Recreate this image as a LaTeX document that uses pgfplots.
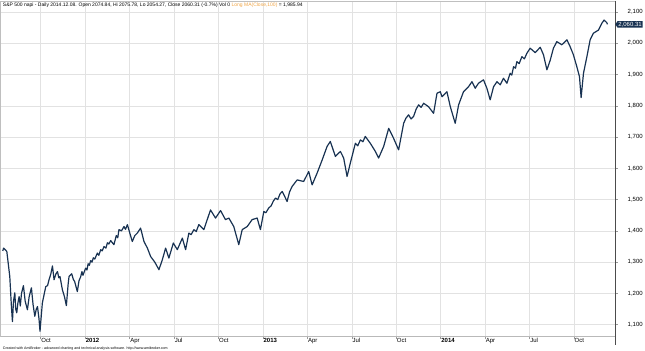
\documentclass[border=0pt]{standalone}
\usepackage{pgfplots}
\pgfplotsset{compat=1.18}
\usepackage{pgfplotstable}
\usepackage{fontspec}
\setmainfont{Liberation Sans}
\usetikzlibrary{shapes.symbols}
\definecolor{navy}{RGB}{24,50,82}
\definecolor{gridc}{RGB}{226,226,226}
\definecolor{orng}{RGB}{240,165,70}
\pgfplotstableread{
m v
6.44 1336
6.49 1345
6.60 1340
6.71 1334
6.80 1298
6.91 1254
7.02 1158
7.09 1110
7.16 1175
7.25 1202
7.31 1150
7.38 1138
7.46 1170
7.54 1190
7.62 1160
7.70 1200
7.83 1225
7.95 1175
8.10 1148
8.22 1190
8.37 1218
8.48 1165
8.60 1127
8.70 1150
8.78 1158
8.88 1120
8.95 1079
9.03 1125
9.11 1170
9.22 1195
9.34 1222
9.46 1225
9.56 1244
9.68 1262
9.79 1288
9.90 1244
10.02 1262
10.13 1270
10.22 1250
10.30 1254
10.46 1212
10.60 1190
10.73 1161
10.85 1230
10.91 1254
11.09 1263
11.20 1245
11.29 1238
11.47 1206
11.58 1240
11.70 1254
11.78 1270
11.85 1258
12.03 1281
12.12 1275
12.20 1295
12.28 1290
12.37 1305
12.46 1300
12.55 1314
12.65 1310
12.82 1329
12.92 1322
13.05 1340
13.15 1336
13.27 1350
13.40 1345
13.50 1362
13.60 1358
13.72 1369
13.94 1356
14.10 1385
14.20 1378
14.28 1404
14.45 1400
14.62 1414
14.72 1405
14.85 1420
15.00 1395
15.18 1366
15.35 1385
15.52 1393
15.74 1409
15.97 1366
16.20 1345
16.42 1318
16.70 1300
16.98 1276
17.21 1308
17.43 1345
17.65 1313
17.95 1361
18.22 1340
18.56 1377
18.78 1340
19.00 1393
19.15 1388
19.34 1404
19.50 1398
19.67 1420
20.01 1404
20.24 1436
20.46 1467
20.80 1441
21.14 1465
21.47 1436
21.70 1441
22.03 1414
22.37 1356
22.60 1404
22.94 1414
23.27 1436
23.61 1441
23.83 1404
24.06 1462
24.20 1458
24.39 1473
24.55 1480
24.70 1495
24.85 1505
25.00 1500
25.15 1518
25.30 1526
25.45 1512
25.63 1494
25.80 1525
25.97 1542
26.31 1563
26.75 1558
27.09 1590
27.32 1547
27.66 1585
28.00 1627
28.33 1670
28.55 1686
28.89 1638
29.23 1654
29.45 1633
29.68 1574
29.90 1617
30.24 1680
30.40 1672
30.58 1691
30.75 1685
30.91 1702
31.25 1680
31.59 1654
31.81 1633
32.15 1670
32.49 1728
32.82 1696
33.16 1659
33.50 1744
33.65 1760
33.83 1771
34.00 1758
34.17 1766
34.35 1790
34.51 1803
34.68 1795
34.85 1808
35.18 1797
35.52 1776
35.75 1840
35.97 1845
36.09 1829
36.42 1845
36.65 1797
36.98 1744
37.21 1803
37.54 1845
37.88 1861
38.11 1877
38.33 1856
38.55 1872
38.89 1883
39.12 1856
39.34 1819
39.57 1861
39.80 1877
40.02 1867
40.24 1888
40.47 1872
40.69 1904
40.80 1898
40.92 1925
41.05 1920
41.14 1941
41.30 1935
41.48 1957
41.65 1950
41.82 1968
42.04 1984
42.38 1970
42.72 1987
42.94 1963
43.17 1915
43.39 1945
43.61 1984
43.84 2005
44.18 1995
44.52 2011
44.74 1989
44.96 1963
45.19 1925
45.37 1893
45.48 1826
45.64 1904
45.87 1957
46.09 2011
46.31 2032
46.65 2042
46.88 2064
47.03 2074
47.21 2066
47.26 2060.31
}\spx
\begin{document}
\begin{tikzpicture}
\begin{axis}[
  name=ax,
  at={(0pt,0pt)}, anchor=south west,
  scale only axis, width=615pt, height=336pt,
  xmin=6.30, xmax=47.77, ymin=1062, ymax=2135,
  clip=false,
  axis line style={draw=gray!50, line width=0.5pt},
  grid=major, major grid style={draw=gridc, line width=0.5pt},
  xtick={9,12,...,45},
  xticklabels={Oct,\textbf{2012},Apr,Jul,Oct,\textbf{2013},Apr,Jul,Oct,\textbf{2014},Apr,Jul,Oct},
  xtick pos=bottom, ytick pos=right,
  tick align=outside,
  major tick length=2.5pt,
  tick style={draw=gray!80, line width=0.5pt},
  xticklabel style={anchor=north west, inner sep=0pt, font=\fontsize{6}{7}\selectfont, xshift=0.5pt, yshift=1pt},
  ytick={1100,1200,...,2100},
  yticklabel pos=right,
  yticklabel style={anchor=west, inner sep=0pt, font=\fontsize{6}{7}\selectfont, xshift=10pt},
  /pgf/number format/1000 sep={,},
  /pgf/number format/assume math mode=true,
]
\addplot[navy, line width=1.2pt, line join=round] table[x=m, y=v] {\spx};
\draw[gray!55, line width=1.5pt] (rel axis cs:0,0) -- (rel axis cs:1,0);
\draw[black!70, line width=0.6pt] (rel axis cs:1,1) -- ([yshift=-8pt]rel axis cs:1,0);
\node[signal, signal to=west, signal pointer angle=110, fill=navy, text=white, inner sep=0.8pt, anchor=west, font=\fontsize{6}{6}\selectfont] at (axis cs:47.77,2060.31) {2,060.31};
\end{axis}
\path ([yshift=-14pt]ax.south west) rectangle ([xshift=645pt,yshift=337pt]ax.south west);
\node[anchor=base west, inner sep=0pt, font=\fontsize{5}{6}\selectfont] at ([xshift=2pt,yshift=330.5pt]ax.south west) {S\&P 500 napi - Daily 2014.12.08. Open 2074.84, Hi 2075.78, Lo 2054.27, Close 2060.31 (-0.7\%) Vol 0 \textcolor{orng}{Long MA(Close,100)} = 1,985.94};
\node[anchor=base west, inner sep=0pt, font=\fontsize{3.6}{4}\selectfont] at ([xshift=2pt,yshift=-12.5pt]ax.south west) {Created with AmiBroker - advanced charting and technical analysis software. http://www.amibroker.com};
\end{tikzpicture}
\end{document}
